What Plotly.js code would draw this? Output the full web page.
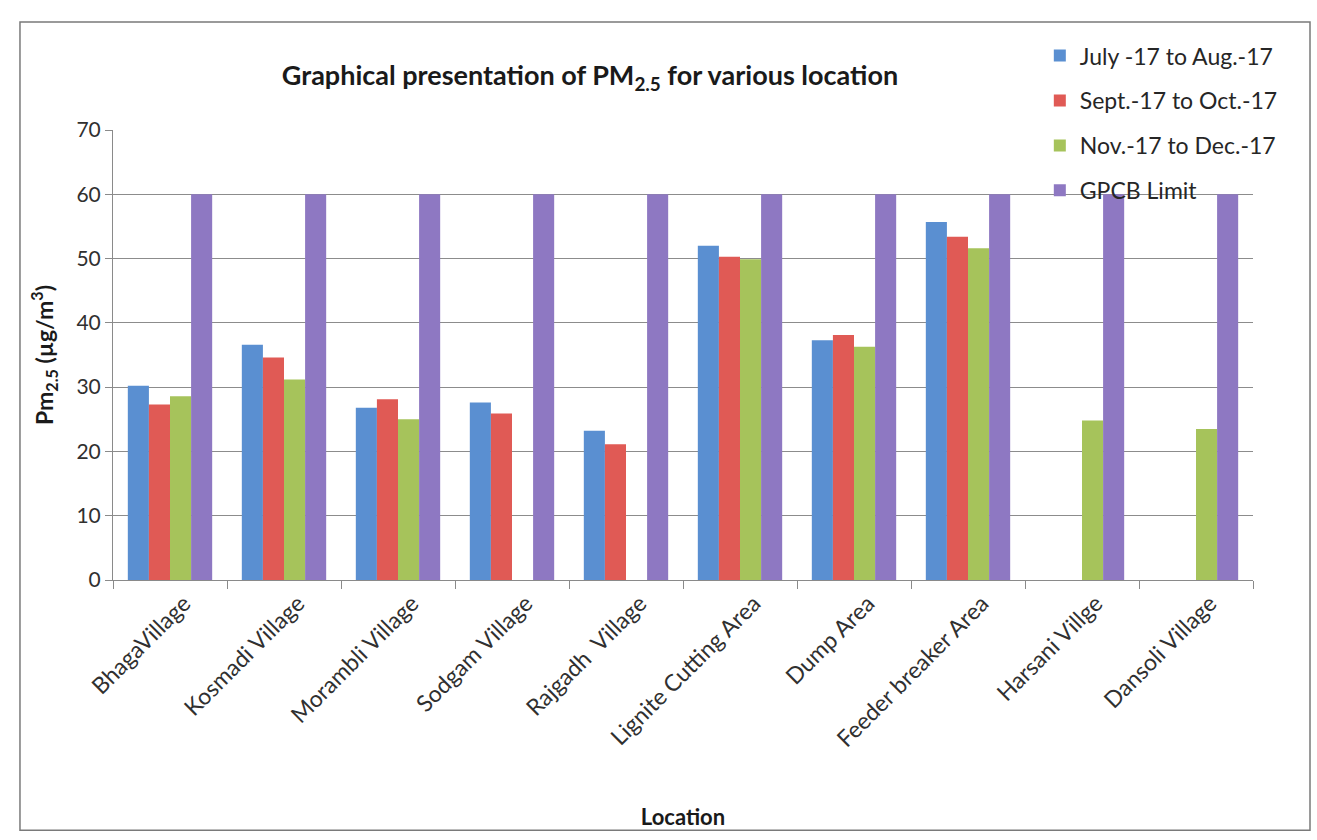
<!DOCTYPE html>
<html>
<head>
<meta charset="utf-8">
<script src="https://cdn.plot.ly/plotly-3.0.1.min.js"></script>
<style>html,body{margin:0;padding:0;background:#fff;}#chart{width:1317px;height:840px;}</style>
</head>
<body>
<div id="chart"></div>
<script>
const locations = ["BhagaVillage", "Kosmadi Village", "Morambli Village", "Sodgam Village", "Rajgadh  Village", "Lignite Cutting Area", "Dump Area", "Feeder breaker Area", "Harsani Villge", "Dansoli Village"];
const julAug = [30.2, 36.6, 26.8, 27.6, 23.2, 52.0, 37.3, 55.7, null, null];
const septOct = [27.3, 34.6, 28.1, 25.9, 21.1, 50.3, 38.1, 53.4, null, null];
const novDec = [28.6, 31.2, 25.0, null, null, 49.9, 36.3, 51.6, 24.8, 23.5];
const gpcbLimit = [60, 60, 60, 60, 60, 60, 60, 60, 60, 60];
const seriesNames = ["July -17 to Aug.-17", "Sept.-17 to Oct.-17", "Nov.-17 to Dec.-17", "GPCB Limit"];
const yTicks = [0, 10, 20, 30, 40, 50, 60, 70];

const colors = ["#5A8FD1", "#E05A55", "#A6C35B", "#8E78C2"];
const font = "Lato, 'Open Sans', sans-serif";
const data = [julAug, septOct, novDec, gpcbLimit].map((vals, i) => ({
  type: "bar",
  x: locations,
  y: vals,
  name: seriesNames[i],
  legendgroup: "g" + i,
  marker: {color: colors[i]},
  hoverinfo: "x+y+name"
}));

const layout = {
  width: 1317, height: 840,
  margin: {l: 113, r: 64, t: 130, b: 260},
  paper_bgcolor: "#ffffff",
  plot_bgcolor: "#ffffff",
  barmode: "group",
  bargap: 0.26,
  bargroupgap: 0,
  font: {family: font, color: "#262626"},
  title: {
    text: "<b>Graphical presentation of PM<sub>2.5</sub> for various location</b>",
    font: {family: font, size: 27, color: "#1a1a1a"},
    x: 0.448, xref: "container", xanchor: "center",
    y: 0.91, yref: "container", yanchor: "middle"
  },
  xaxis: {
    type: "category",
    tickangle: -45,
    tickfont: {size: 23, color: "#303030"},
    ticklabelshift: 14,
    showline: true, linecolor: "#8a8a8a", linewidth: 1,
    ticks: "outside", ticklen: 8, tickcolor: "#8a8a8a",
    tickson: "boundaries",
    showgrid: false,
    title: {text: "<b>Location</b>", font: {size: 22, color: "#1a1a1a"}, standoff: 58}
  },
  yaxis: {
    range: [0, 70],
    tickvals: yTicks,
    ticktext: yTicks.map(String),
    tickfont: {size: 21, color: "#303030"},
    showline: true, linecolor: "#8a8a8a", linewidth: 1,
    ticks: "outside", ticklen: 7, tickcolor: "#8a8a8a",
    showgrid: true, gridcolor: "#8c8c8c", gridwidth: 1,
    zeroline: false,
    title: {text: "<b>Pm<sub>2.5</sub> (µg/m<sup>3</sup>)</b>", font: {size: 23, color: "#1a1a1a"}, standoff: 16}
  },
  legend: {
    x: 0.813, xanchor: "left",
    y: 1.213, yanchor: "top",
    bgcolor: "rgba(0,0,0,0)",
    font: {size: 23, color: "#262626"},
    tracegroupgap: 12,
    itemwidth: 30
  },
  shapes: [{
    type: "rect", xref: "paper", yref: "paper",
    x0: -0.0816, x1: 1.05, y0: -0.556, y1: 1.24,
    line: {color: "#7a7a7a", width: 1.5}, fillcolor: "rgba(0,0,0,0)", layer: "below"
  }],
  showlegend: true
};

Plotly.newPlot("chart", data, layout, {displayModeBar: false, responsive: false});
</script>
</body>
</html>
